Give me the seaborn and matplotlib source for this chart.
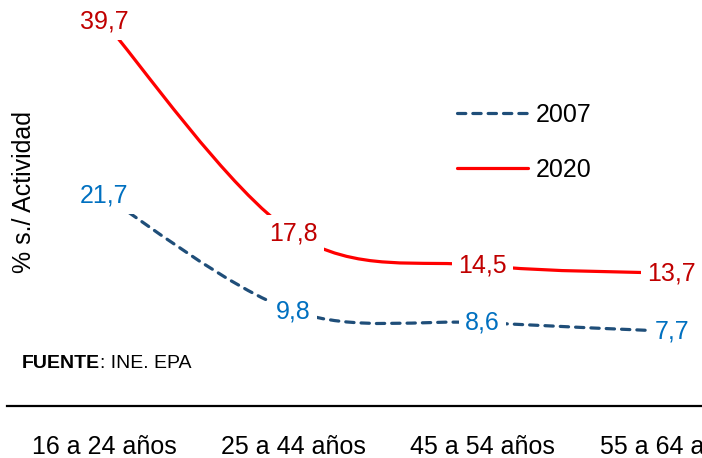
import numpy as np
import seaborn as sns
import matplotlib.pyplot as plt
from matplotlib.path import Path
from matplotlib.patches import PathPatch
from matplotlib.lines import Line2D

# Datos: tasa de paro por grupos de edad (EPA)
categories = ["16 a 24 años", "25 a 44 años", "45 a 54 años", "55 a 64 años"]
years = ["2007", "2020"]
paro_2007 = [21.7, 9.8, 8.6, 7.7]
paro_2020 = [39.7, 17.8, 14.5, 13.7]

line_colors = {"2007": "#1F4E79", "2020": "#FF0000"}
label_colors = {"2007": "#0070C0", "2020": "#C00000"}
dash = (0, (2.6, 2.2))

sns.set_theme(style="white")
plt.rcParams["font.family"] = ["Liberation Sans", "DejaVu Sans"]
plt.rcParams["text.color"] = "black"


def smooth_path(xs, ys):
    # curva suavizada tipo Excel (Catmull-Rom -> Bezier)
    pts = np.column_stack([xs, ys]).astype(float)
    n = len(pts)
    verts = [pts[0]]
    codes = [Path.MOVETO]
    for i in range(n - 1):
        p0 = pts[max(i - 1, 0)]
        p1 = pts[i]
        p2 = pts[i + 1]
        p3 = pts[min(i + 2, n - 1)]
        verts += [p1 + (p2 - p0) / 6, p2 - (p3 - p1) / 6, p2]
        codes += [Path.CURVE4] * 3
    return Path(verts, codes)


fig = plt.figure(figsize=(7.02, 4.58), dpi=100)
ax = fig.add_axes([7 / 702, 52 / 458, 695 / 702, 406 / 458])

x = np.arange(len(categories))
series = {"2007": paro_2007, "2020": paro_2020}

for year, vals in series.items():
    ls = dash if year == "2007" else "-"
    patch = PathPatch(smooth_path(x, vals), fill=False, edgecolor=line_colors[year],
                      lw=2.3, linestyle=ls, capstyle="round", zorder=2)
    ax.add_patch(patch)
    for xi, v in zip(x, vals):
        ax.text(xi, v, f"{v:.1f}".replace(".", ","), ha="center", va="center",
                fontsize=18, color=label_colors[year], zorder=3,
                bbox=dict(boxstyle="square,pad=0.25", fc="white", ec="none"))

ax.set_xlim(-0.512, 3.159)
ax.set_ylim(0, 41.9)
ax.set_yticks([])
ax.set_xticks(x)
ax.set_xticklabels(categories)
ax.tick_params(axis="x", length=0, pad=21, labelsize=18, labelcolor="black")

sns.despine(ax=ax, left=True)
ax.spines["bottom"].set_color("black")
ax.spines["bottom"].set_linewidth(1.6)

handles = [
    Line2D([], [], color=line_colors["2007"], lw=2.3, linestyle=dash, dash_capstyle="round"),
    Line2D([], [], color=line_colors["2020"], lw=2.3),
]
ax.legend(handles, years, loc="upper left", bbox_to_anchor=(457 / 702, 1 - 103 / 458),
          bbox_transform=fig.transFigure, frameon=False, fontsize=18,
          handlelength=2.85, handletextpad=0.3, labelspacing=1.23,
          borderpad=0, borderaxespad=0, labelcolor="black")

fig.text(24 / 702, 1 - 192 / 458, "% s./ Actividad", rotation=90,
         ha="center", va="center", fontsize=18, color="black")

src = fig.text(22 / 702, 1 - 368 / 458, "FUENTE", fontsize=14, fontweight="bold",
               va="baseline", color="black")
ax.annotate(": INE. EPA", xy=(1, 0), xycoords=src, fontsize=14, va="bottom",
            ha="left", color="black")

fig.savefig("out.png", dpi=100)
